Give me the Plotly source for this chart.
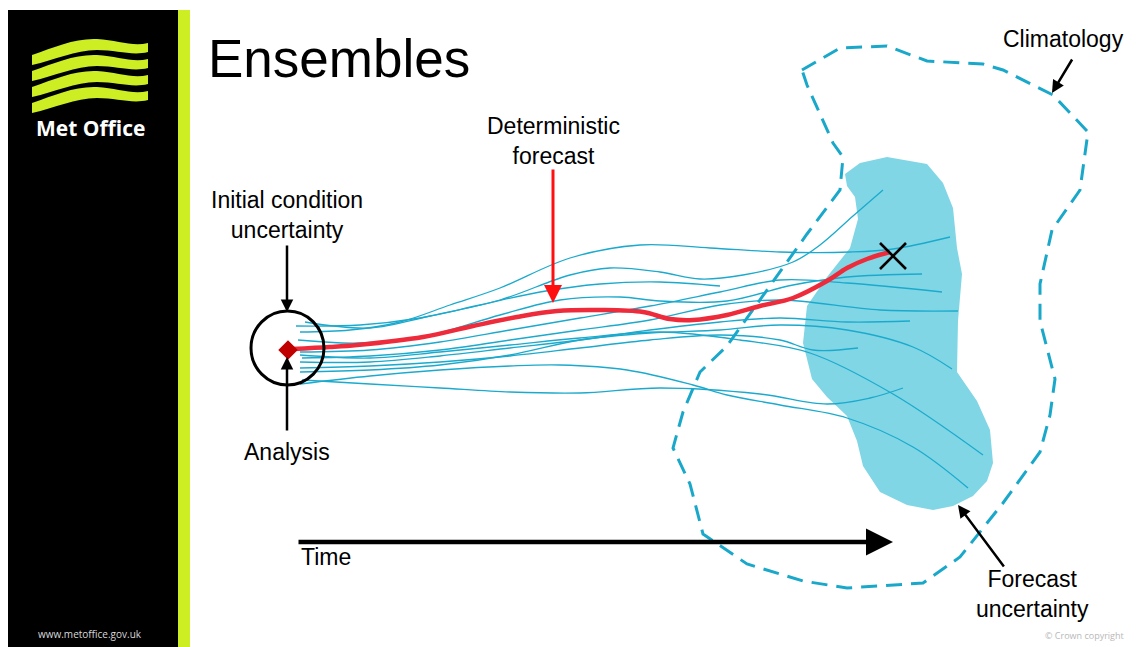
import plotly.graph_objects as go

W, H = 1136, 647
OFF = 8  # page body margin: keeps figure coordinates equal to screen pixels

# ---- diagram data (pixel-space coordinates of the schematic) ----
clim_x = [802, 840, 887, 927, 983, 1003, 1053, 1088, 1080, 1052, 1040, 1040, 1055, 1050, 1040,
          1003, 960, 923, 847, 803, 747, 703, 690, 673, 683, 700, 727, 773, 807, 840, 843, 833, 807, 802]
clim_y = [70, 48, 46, 61, 64, 70, 95, 132, 190, 230, 284, 321, 379, 415, 452,
          503, 557, 583, 588, 581, 564, 534, 484, 448, 412, 372, 346, 281, 234, 190, 157, 143, 85, 70]

blob_x = [845, 860, 887, 927, 943, 953, 957, 962, 958, 957, 977, 990, 993, 987, 973, 953, 933,
          907, 880, 863, 857, 847, 827, 812, 803, 807, 827, 850, 858, 855, 847, 845]
blob_y = [174, 163, 157, 164, 183, 208, 248, 274, 321, 372, 401, 430, 463, 481, 496, 506, 510,
          505, 492, 466, 441, 416, 397, 379, 343, 306, 277, 248, 219, 197, 186, 174]

det_x = [292, 330, 357, 423, 473, 517, 557, 600, 643, 670, 693, 727, 760, 793, 827, 847, 867, 890]
det_y = [349, 347, 345, 337, 326, 317, 311, 310, 312, 319, 320, 315, 306, 298, 281, 268, 259, 252]

members = [
    ([300, 350, 400, 450, 500, 570, 640, 710, 780, 850, 893, 950],
     [332, 330, 322, 305, 288, 258, 245, 248, 252, 252, 249, 237]),
    ([305, 370, 430, 500, 570, 610, 660, 700, 743, 793, 820, 853, 883],
     [322, 328, 316, 300, 275, 268, 272, 279, 275, 262, 245, 216, 190]),
    ([298, 360, 430, 500, 560, 620, 660, 727, 793, 847, 922],
     [340, 343, 335, 315, 300, 297, 301, 301, 285, 277, 274]),
    ([300, 370, 440, 510, 580, 650, 720, 780, 847, 942],
     [352, 350, 342, 330, 318, 306, 292, 280, 283, 292]),
    ([302, 370, 440, 510, 580, 650, 720, 780, 880, 958],
     [358, 356, 350, 340, 330, 320, 305, 300, 310, 311]),
    ([300, 370, 440, 510, 580, 650, 720, 780, 847, 910],
     [362, 362, 356, 348, 340, 330, 322, 318, 322, 321]),
    ([300, 370, 440, 510, 580, 650, 720, 780, 813, 858],
     [368, 366, 362, 356, 348, 340, 335, 340, 350, 348]),
    ([300, 370, 440, 510, 580, 650, 720, 780, 847, 913, 952],
     [372, 370, 365, 355, 340, 333, 330, 325, 330, 347, 369]),
    ([302, 370, 440, 510, 580, 660, 760, 827, 870, 903],
     [380, 384, 388, 392, 393, 388, 394, 404, 398, 388]),
    ([300, 370, 440, 510, 580, 660, 740, 810, 893, 983],
     [355, 358, 352, 345, 338, 332, 340, 353, 394, 455]),
    ([300, 370, 440, 510, 560, 627, 693, 727, 780, 847, 913, 968],
     [384, 376, 370, 366, 365, 370, 385, 395, 405, 418, 447, 488]),
    ([296, 360, 420, 480, 540, 600, 660, 720],
     [326, 325, 318, 305, 292, 284, 282, 286]),
]

analysis_pt = (288, 350)
truth_pt = (893, 256)

ENS = "#1BAACD"
BLOB = "#80D6E5"
DASH = "#1AA8CA"
RED = "#EE2B3B"
LIME = "#CCEE22"
FONT = "Liberation Sans"

fig = go.Figure()

fig.add_trace(go.Scatter(x=blob_x, y=blob_y, fill="toself", fillcolor=BLOB,
                         mode="lines", line=dict(width=0, color=BLOB), hoverinfo="skip"))
for mx, my in members:
    fig.add_trace(go.Scatter(x=mx, y=my, mode="lines", line=dict(color=ENS, width=1.3, shape="spline"),
                             hoverinfo="skip"))
fig.add_trace(go.Scatter(x=clim_x, y=clim_y, mode="lines",
                         line=dict(color=DASH, width=3, dash="16px,9px"), hoverinfo="skip"))
fig.add_trace(go.Scatter(x=det_x, y=det_y, mode="lines",
                         line=dict(color=RED, width=4.5, shape="spline"), hoverinfo="skip"))
fig.add_trace(go.Scatter(x=[analysis_pt[0]], y=[analysis_pt[1]], mode="markers",
                         marker=dict(symbol="diamond", size=15, color="#C00000"), hoverinfo="skip"))
fig.add_trace(go.Scatter(x=[truth_pt[0]], y=[truth_pt[1]], mode="markers",
                         marker=dict(symbol="x-thin", size=26, line=dict(width=2.6, color="black")),
                         hoverinfo="skip"))

shapes = [
    dict(type="rect", x0=8, x1=178, y0=10, y1=H + 20, fillcolor="black", line=dict(width=0), layer="below"),
    dict(type="rect", x0=178, x1=190, y0=10, y1=H + 20, fillcolor=LIME, line=dict(width=0), layer="below"),
    dict(type="circle", x0=251, x1=324, y0=311, y1=385, line=dict(color="black", width=3)),
]
# logo wave bands
for i in range(4):
    o = 55 + i * 16
    path = (f"M 32,{o} C 55,{o-8} 75,{o-17} 97,{o-16} C 118,{o-15} 132,{o-8} 148,{o-12} "
            f"L 148,{o-3} C 132,{o+1} 117,{o-5} 97,{o-5} C 75,{o-5} 55,{o+5} 32,{o+10} Z")
    shapes.append(dict(type="path", path=path, fillcolor=LIME, line=dict(width=0), layer="below"))

ann = []
def txt(x, y, s, size=23, color="black", xanchor="center", bold=False, family=FONT):
    ann.append(dict(x=x, y=y, text=(f"<b>{s}</b>" if bold else s), showarrow=False,
                    xanchor=xanchor, yanchor="middle",
                    font=dict(family=family, size=size, color=color)))

def arrow(hx, hy, tx, ty, color="black", width=2.5, size=1.0):
    ann.append(dict(x=hx, y=hy, ax=tx, ay=ty, axref="x", ayref="y", xref="x", yref="y",
                    text="", showarrow=True, arrowhead=2, arrowsize=size, arrowwidth=width,
                    arrowcolor=color, standoff=0, startstandoff=0))

txt(206, 58, "Ensembles", size=53, xanchor="left")
txt(553, 141, "Deterministic<br>forecast")
txt(287, 215, "Initial condition<br>uncertainty")
txt(287, 452, "Analysis")
txt(299, 557, "Time", xanchor="left")
txt(1126, 39, "Climatology", xanchor="right")
txt(1032, 594, "Forecast<br>uncertainty")
txt(90, 128, "Met Office", size=21, color="white", bold=True, family="Open Sans")
txt(90, 634, "www.metoffice.gov.uk", size=10, color="#d8d8d8", family="Open Sans")
txt(1126, 635, "© Crown copyright", size=9, color="#b8b8b8", family="Open Sans", xanchor="right")

arrow(287, 312, 287, 244)
arrow(287, 357, 287, 432)
arrow(553, 303, 553, 168, color="#FF1010", width=3, size=1.2)
arrow(893, 542, 297, 542, width=4.5, size=1.2)
arrow(1052, 93, 1073, 58)
arrow(958, 505, 1005, 568)

fig.update_layout(
    width=W - OFF, height=H - OFF, margin=dict(l=0, r=0, t=0, b=0),
    paper_bgcolor="white", plot_bgcolor="white", showlegend=False,
    xaxis=dict(range=[OFF, W], visible=False, fixedrange=True),
    yaxis=dict(range=[H, OFF], visible=False, fixedrange=True),
    shapes=shapes, annotations=ann,
)
fig.write_html("out.html", config={"displayModeBar": False})
